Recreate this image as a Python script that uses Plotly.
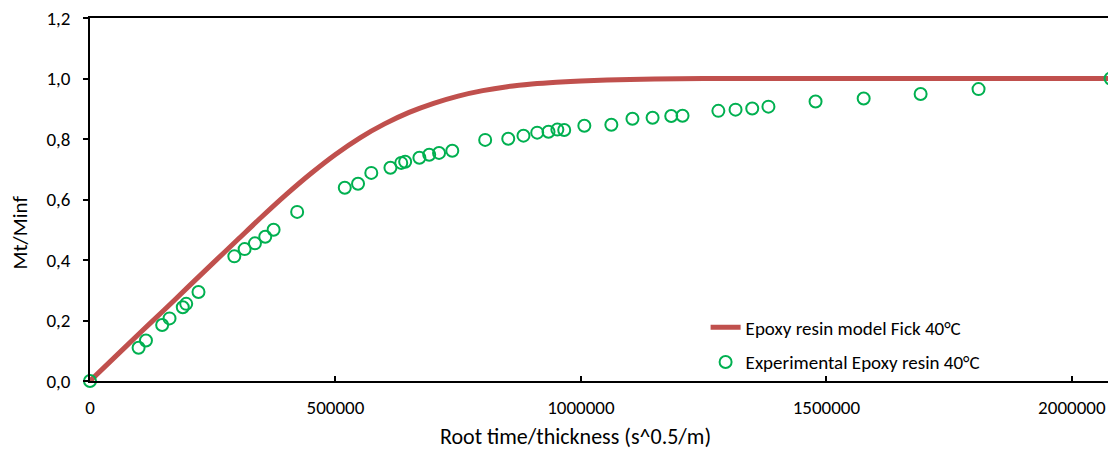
import plotly.graph_objects as go

exp_x = [0, 99000, 114000, 147000, 162000, 189000, 196000, 221000, 294000, 315000,
         336000, 357000, 374000, 422000, 519000, 546000, 573000, 612000, 634000, 642000,
         671000, 691000, 711000, 738000, 805000, 852000, 883000, 911000, 934000, 952000,
         966000, 1007000, 1062000, 1105000, 1146000, 1184000, 1207000, 1280000, 1315000,
         1349000, 1382000, 1478000, 1576000, 1692000, 1810000, 2079000]
exp_y = [0.0, 0.110, 0.134, 0.185, 0.207, 0.244, 0.255, 0.294, 0.412, 0.436,
         0.455, 0.477, 0.500, 0.559, 0.639, 0.652, 0.688, 0.705, 0.721, 0.725,
         0.738, 0.748, 0.754, 0.761, 0.797, 0.801, 0.811, 0.821, 0.824, 0.831,
         0.830, 0.844, 0.847, 0.867, 0.870, 0.876, 0.877, 0.893, 0.897,
         0.901, 0.907, 0.924, 0.934, 0.949, 0.965, 1.0]

# Model curve
model_x = [0, 50000, 100000, 150000, 200000, 250000, 300000, 350000, 400000, 450000,
           500000, 550000, 600000, 650000, 700000, 750000, 800000, 850000, 900000,
           950000, 1000000, 1100000, 1200000, 1300000, 1400000, 1700000, 2100000]
model_y = [0.0, 0.078, 0.156, 0.233, 0.311, 0.389, 0.466, 0.543, 0.617, 0.686,
           0.749, 0.804, 0.850, 0.888, 0.918, 0.942, 0.960, 0.973, 0.982,
           0.988, 0.992, 0.997, 0.999, 1.0, 1.0, 1.0, 1.0]

x_tickvals = [0, 500000, 1000000, 1500000, 2000000]
x_ticktext = ["0", "500000", "1000000", "1500000", "2000000"]
y_tickvals = [0, 0.2, 0.4, 0.6, 0.8, 1.0, 1.2]
y_ticktext = ["0,0", "0,2", "0,4", "0,6", "0,8", "1,0", "1,2"]

FONT = "Carlito, Lato, 'Open Sans', sans-serif"

fig = go.Figure()
fig.add_trace(go.Scatter(
    x=model_x, y=model_y, mode="lines",
    line=dict(color="#C0504D", width=5, shape="spline", smoothing=0.8),
    name="Epoxy resin model Fick 40°C", legendgroup="a"))
fig.add_trace(go.Scatter(
    x=exp_x, y=exp_y, mode="markers", cliponaxis=False,
    marker=dict(symbol="circle-open", size=12, color="#00B050", line=dict(width=2, color="#00B050")),
    name="Experimental Epoxy resin 40°C", legendgroup="b"))

# The page body has an 8px margin, so the figure is 8px smaller and margins compensate.
fig.update_layout(
    width=1108, height=444,
    margin=dict(l=82, r=0, t=10, b=71),
    paper_bgcolor="white", plot_bgcolor="white",
    font=dict(family=FONT, size=19, color="black"),
    showlegend=True,
    legend=dict(x=0.6, y=0.2, xanchor="left", yanchor="top", bgcolor="rgba(0,0,0,0)",
                traceorder="grouped", tracegroupgap=7, font=dict(size=19)),
    xaxis=dict(range=[0, 2090000], tickvals=x_tickvals, ticktext=x_ticktext,
               showgrid=False, zeroline=False, showline=True, linecolor="black", linewidth=1.5,
               mirror=True, ticks="inside", ticklen=5, tickcolor="black", tickwidth=1.5,
               ticklabelstandoff=8, ticklabeloverflow="allow"),
    yaxis=dict(range=[0, 1.2], tickvals=y_tickvals, ticktext=y_ticktext,
               showgrid=False, zeroline=False, showline=True, linecolor="black", linewidth=1.5,
               ticks="outside", ticklen=5, tickcolor="black", tickwidth=1.5,
               ticklabelstandoff=9, ticklabeloverflow="allow"),
    annotations=[
        dict(text="Root time/thickness (s^0.5/m)", xref="paper", yref="paper",
             x=0.473, y=-0.154, xanchor="center", yanchor="middle", showarrow=False,
             font=dict(size=22)),
        dict(text="Mt/Minf", xref="paper", yref="paper", textangle=-90,
             x=-0.068, y=0.41, xanchor="center", yanchor="middle", showarrow=False,
             font=dict(size=21)),
    ],
)

fig.write_html("out.html")
